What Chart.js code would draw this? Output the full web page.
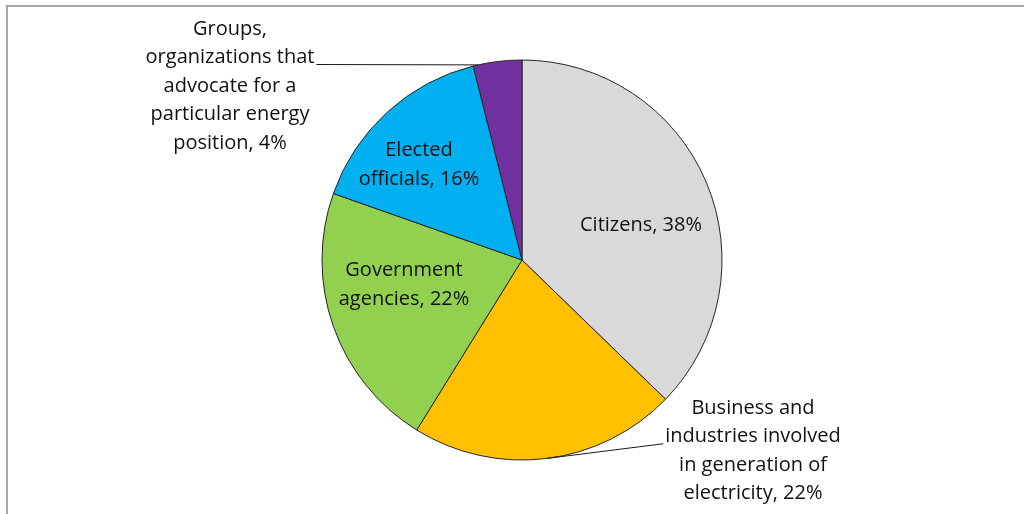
<!DOCTYPE html>
<html>
<head>
<meta charset="utf-8">
<script src="https://cdn.jsdelivr.net/npm/chart.js@4.4.0/dist/chart.umd.min.js"></script>
<style>
  html, body { margin: 0; padding: 0; background: #fff; }
  #wrap { width: 1024px; height: 514px; position: relative; }
</style>
</head>
<body>
<div id="wrap"><canvas id="c" width="1024" height="514"></canvas></div>
<script>
// data (shown percentages, they add up to 102)
const categories = ['Citizens', 'Business and industries involved in generation of electricity', 'Government agencies', 'Elected officials', 'Groups, organizations that advocate for a particular energy position'];
const shares = [38, 22, 22, 16, 4];
const labelLines = [
  ['Citizens, 38%'],
  ['Business and', 'industries involved', 'in generation of', 'electricity, 22%'],
  ['Government', 'agencies, 22%'],
  ['Elected', 'officials, 16%'],
  ['Groups,', 'organizations that', 'advocate for a', 'particular energy', 'position, 4%']
];

const sliceColors = ['#d9d9d9', '#ffc000', '#92d050', '#00b0f0', '#7030a0'];
// label block centre, relative to pie centre in radius units
const labelPos = [[0.595, -0.175], [1.155, 0.955], [-0.59, 0.125], [-0.515, -0.475], [-1.46, -0.87]];
// leader lines: [slice index, line of text it leaves from, side, fraction along slice]
const leaders = [[4, 1, 'right', 0.1], [1, 1, 'left', 0.5]];

const FONT = '20px "Open Sans", Lato, sans-serif';
const LINE_H = 28.5;

const framePlugin = {
  id: 'frame',
  beforeDraw(chart) {
    const ctx = chart.ctx;
    ctx.save();
    ctx.fillStyle = '#fff';
    ctx.fillRect(0, 0, chart.width, chart.height);
    ctx.strokeStyle = '#a6a6a6';
    ctx.lineWidth = 2;
    ctx.beginPath();
    ctx.moveTo(7, chart.height);
    ctx.lineTo(7, 6);
    ctx.lineTo(chart.width, 6);
    ctx.stroke();
    ctx.restore();
  }
};

const labelPlugin = {
  id: 'sliceLabels',
  afterDraw(chart) {
    const ctx = chart.ctx;
    const meta = chart.getDatasetMeta(0);
    const arc0 = meta.data[0];
    const cx = arc0.x, cy = arc0.y, r = arc0.outerRadius;
    ctx.save();
    ctx.font = FONT;
    ctx.fillStyle = '#111';
    ctx.textAlign = 'center';
    ctx.textBaseline = 'middle';
    const blocks = labelLines.map((lines, i) => {
      const bx = cx + labelPos[i][0] * r;
      const by = cy + labelPos[i][1] * r;
      const top = by - (lines.length - 1) * LINE_H / 2;
      lines.forEach((t, k) => ctx.fillText(t, bx, top + k * LINE_H));
      return { bx, top };
    });
    ctx.strokeStyle = '#1a1a1a';
    ctx.lineWidth = 1;
    leaders.forEach(([i, k, side, f]) => {
      const b = blocks[i];
      const w = ctx.measureText(labelLines[i][k]).width;
      const sx = side === 'right' ? b.bx + w / 2 + 2 : b.bx - w / 2 - 2;
      const sy = b.top + k * LINE_H + 7;
      const a = meta.data[i];
      const ang = a.startAngle + (a.endAngle - a.startAngle) * f;
      const ex = cx + Math.cos(ang) * r;
      const ey = cy + Math.sin(ang) * r;
      ctx.beginPath();
      ctx.moveTo(sx, sy);
      ctx.lineTo(ex, ey);
      ctx.stroke();
    });
    ctx.restore();
  }
};

new Chart(document.getElementById('c'), {
  type: 'pie',
  data: {
    labels: categories,
    datasets: [{
      data: shares,
      backgroundColor: sliceColors,
      borderColor: '#262626',
      borderWidth: 1,
      radius: 200
    }]
  },
  options: {
    responsive: false,
    animation: false,
    events: [],
    layout: { padding: { left: 322, right: 302, top: 60, bottom: 54 } },
    plugins: {
      legend: { display: false },
      tooltip: { enabled: false }
    }
  },
  plugins: [framePlugin, labelPlugin]
});
</script>
</body>
</html>
